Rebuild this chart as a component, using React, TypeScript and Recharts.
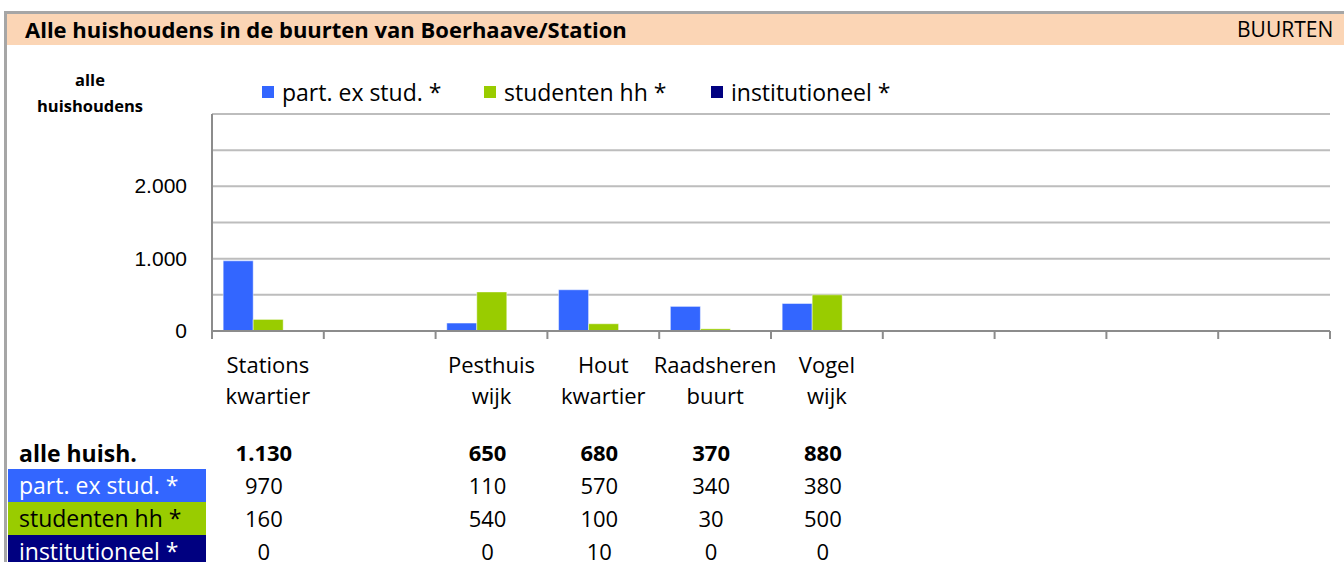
import React from "react";
import { BarChart, Bar, XAxis, YAxis, CartesianGrid } from "recharts";

const categories = ["Stations kwartier", "", "Pesthuis wijk", "Hout kwartier", "Raadsheren buurt", "Vogel wijk", "", "", "", ""];
const partExStud = [970, null, 110, 570, 340, 380, null, null, null, null];
const studentenHh = [160, null, 540, 100, 30, 500, null, null, null, null];
const institutioneel = [0, null, 0, 10, 0, 0, null, null, null, null];
const yTicks = [0, 500, 1000, 1500, 2000, 2500];
const yLabelTicks = [0, 1000, 2000];

const seriesNames = ["part. ex stud. *", "studenten hh *", "institutioneel *"];
const seriesColors = ["#3366FF", "#99CC00", "#000080"];
const seriesKeys = ["part", "stud", "inst"];
const legendLeft = [262, 484, 711];

const FONT = "'Open Sans', Lato, sans-serif";

const data = categories.map((c, i) => ({
  idx: i,
  name: c,
  part: partExStud[i],
  stud: studentenHh[i],
  inst: institutioneel[i],
}));

const totals = categories.map((_, i) =>
  partExStud[i] === null ? null : (partExStud[i] || 0) + (studentenHh[i] || 0) + (institutioneel[i] || 0)
);

const fmt = (v: number) => String(v).replace(/\B(?=(\d{3})+(?!\d))/g, ".");

const bottomTicks: number[] = [];
categories.forEach((_, i) => {
  bottomTicks.push(i);
  bottomTicks.push(i + 0.5);
});
bottomTicks.push(categories.length);

function BottomTick(props: any) {
  const { x, y, payload } = props;
  const v = payload.value as number;
  if (Number.isInteger(v)) {
    return <line x1={x} x2={x} y1={y} y2={y + 8} stroke="#8C8C8C" strokeWidth={2} />;
  }
  const i = Math.floor(v);
  const words = categories[i] ? categories[i].split(" ") : [];
  const rows: (number | null)[] = [totals[i], partExStud[i], studentenHh[i], institutioneel[i]];
  return (
    <g>
      {words.map((w, k) => (
        <text key={"w" + k} x={x} y={y + 42 + k * 31} textAnchor="middle" fontFamily={FONT} fontSize={22} fill="#000">
          {w}
        </text>
      ))}
      {rows.map((r, k) =>
        r === null ? null : (
          <text
            key={"r" + k}
            x={x - 4}
            y={y + 130 + k * 33}
            textAnchor="middle"
            fontFamily={FONT}
            fontSize={22}
            fontWeight={k === 0 ? 700 : 400}
            fill="#000"
          >
            {fmt(r)}
          </text>
        )
      )}
    </g>
  );
}

function YTick(props: any) {
  const { x, y, payload } = props;
  const v = payload.value as number;
  if (!yLabelTicks.includes(v)) return null;
  return (
    <text x={x} y={y + 7} textAnchor="end" fontFamily="'Liberation Sans', Arial, sans-serif" fontSize={21} fill="#000">
      {fmt(v)}
    </text>
  );
}

const rowLabelStyle: React.CSSProperties = {
  position: "absolute",
  left: 8,
  width: 198,
  height: 33,
  fontFamily: FONT,
  fontSize: 23,
  lineHeight: "33px",
  paddingLeft: 11,
  boxSizing: "border-box",
  whiteSpace: "nowrap",
  overflow: "hidden",
};

export default function App() {
  return (
    <div style={{ position: "absolute", left: 0, top: 0, width: 1344, height: 562, background: "#fff", overflow: "hidden" }}>
      {/* frame */}
      <div style={{ position: "absolute", left: 4, top: 11, width: 1340, height: 560, borderTop: "3px solid #A6A6A6", borderLeft: "3px solid #A6A6A6" }} />
      {/* title bar */}
      <div style={{ position: "absolute", left: 7, top: 14, width: 1337, height: 31, background: "#FBD5B5" }} />
      <div style={{ position: "absolute", left: 25, top: 14, height: 31, lineHeight: "31px", fontFamily: FONT, fontWeight: 700, fontSize: 22, color: "#000", whiteSpace: "nowrap" }}>
        Alle huishoudens in de buurten van Boerhaave/Station
      </div>
      <div style={{ position: "absolute", left: 1237, top: 14, height: 31, lineHeight: "31px", fontFamily: FONT, fontSize: 21, color: "#000", whiteSpace: "nowrap" }}>
        BUURTEN
      </div>
      {/* y-axis title */}
      <div style={{ position: "absolute", left: 20, top: 67, width: 140, textAlign: "center", fontFamily: FONT, fontWeight: 700, fontSize: 16.5, lineHeight: "26px", color: "#000" }}>
        alle
        <br />
        huishoudens
      </div>
      {/* legend */}
      {seriesNames.map((n, k) => (
        <div
          key={n}
          style={{ position: "absolute", left: legendLeft[k], top: 79, height: 26, display: "flex", alignItems: "center", fontFamily: FONT, fontSize: 23, color: "#000", whiteSpace: "nowrap" }}
        >
          <span style={{ display: "inline-block", width: 12, height: 12, background: seriesColors[k], marginRight: 8 }} />
          <span>{n}</span>
        </div>
      ))}
      {/* row labels */}
      <div style={{ ...rowLabelStyle, top: 437, fontWeight: 700, color: "#000" }}>alle huish.</div>
      {seriesNames.map((n, k) => (
        <div key={n} style={{ ...rowLabelStyle, top: 469 + k * 33, background: seriesColors[k], color: k === 1 ? "#000" : "#fff" }}>
          {n}
        </div>
      ))}
      <div style={{ position: "absolute", left: 0, top: 0 }}>
        <BarChart
          width={1344}
          height={562}
          data={data}
          margin={{ top: 114, right: 14, bottom: 0, left: 142 }}
          barCategoryGap="10%"
          barGap={0}
        >
          <CartesianGrid xAxisId="num" vertical={false} stroke="#BDBDBD" strokeWidth={2} />
          <XAxis xAxisId="cat" dataKey="idx" type="category" hide height={0} />
          <XAxis
            xAxisId="num"
            dataKey="idx"
            type="number"
            domain={[0, categories.length]}
            allowDataOverflow
            ticks={bottomTicks}
            interval={0}
            tickSize={0}
            tickMargin={0}
            tickLine={false}
            height={231}
            axisLine={{ stroke: "#8C8C8C", strokeWidth: 2 }}
            tick={<BottomTick />}
          />
          <YAxis
            domain={[0, 3000]}
            ticks={yTicks}
            interval={0}
            width={70}
            tickSize={0}
            tickMargin={25}
            tickLine={false}
            axisLine={{ stroke: "#8C8C8C", strokeWidth: 2 }}
            tick={<YTick />}
          />
          {seriesKeys.map((k, i) => (
            <Bar
              key={k}
              xAxisId="cat"
              dataKey={k}
              name={seriesNames[i]}
              fill={seriesColors[i]}
              stroke="rgba(255,255,255,0.45)"
              strokeWidth={1}
              isAnimationActive={false}
            />
          ))}
        </BarChart>
      </div>
    </div>
  );
}
